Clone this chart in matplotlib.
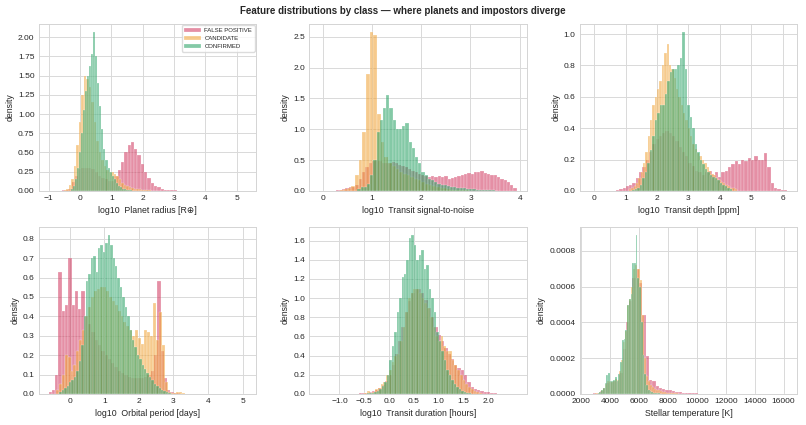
import numpy as np
import matplotlib
matplotlib.use("Agg")
import matplotlib.pyplot as plt
import seaborn as sns

# ---------------- data (density per bin) ----------------
classes = ["FALSE POSITIVE", "CANDIDATE", "CONFIRMED"]

# Panel 1: log10 planet radius
radius_fp_range = (-1.0, 5.3)
radius_fp = [0.002, 0.002, 0.003, 0.004, 0.006, 0.01, 0.03, 0.12, 0.2, 0.28,
             0.3, 0.3, 0.3, 0.28, 0.25, 0.2, 0.17, 0.15, 0.13, 0.13,
             0.2, 0.27, 0.38, 0.5, 0.6, 0.64, 0.55, 0.47, 0.35, 0.25,
             0.17, 0.1, 0.06, 0.05, 0.03, 0.015, 0.01, 0.008, 0.006, 0.005,
             0.004, 0.004, 0.003, 0.003, 0.003, 0.002, 0.002, 0.002, 0.002, 0.002,
             0.002, 0.001, 0.001, 0.001, 0.001, 0.001, 0.001, 0.001, 0.001, 0.001]
radius_cand_range = (-0.6, 2.6)
radius_cand = [0.005, 0.01, 0.03, 0.08, 0.15, 0.33, 0.6, 0.9, 1.25, 1.5,
               1.45, 1.35, 1.15, 0.9, 0.65, 0.5, 0.4, 0.32, 0.27, 0.25,
               0.24, 0.22, 0.2, 0.15, 0.1, 0.08, 0.06, 0.05, 0.04, 0.03,
               0.025, 0.02, 0.015, 0.01, 0.008, 0.006, 0.005, 0.004, 0.003, 0.002]
radius_conf_range = (-0.29, 2.05)
radius_conf = [0.02, 0.06, 0.15, 0.3, 0.5, 0.75, 1.05, 1.3, 1.5, 1.62,
               1.78, 2.07, 1.75, 1.4, 1.1, 0.8, 0.55, 0.4, 0.3, 0.25,
               0.2, 0.15, 0.1, 0.07, 0.05, 0.03, 0.02, 0.015, 0.01, 0.01,
               0.005, 0.004, 0.003, 0.002, 0.002, 0.001]

# Panel 2: log10 transit signal-to-noise
snr_fp_range = (-0.08, 3.94)
snr_fp = [0.002, 0.002, 0.003, 0.003, 0.005, 0.008, 0.015, 0.03, 0.04, 0.06,
          0.07, 0.1, 0.2, 0.3, 0.38, 0.45, 0.48, 0.5, 0.48, 0.45,
          0.45, 0.45, 0.47, 0.45, 0.42, 0.4, 0.38, 0.36, 0.33, 0.3,
          0.27, 0.25, 0.24, 0.23, 0.24, 0.23, 0.24, 0.22, 0.24, 0.2,
          0.21, 0.23, 0.24, 0.26, 0.27, 0.29, 0.28, 0.3, 0.3, 0.32,
          0.29, 0.27, 0.25, 0.26, 0.22, 0.2, 0.17, 0.14, 0.1, 0.05]
snr_cand_range = (0.35, 3.05)
snr_cand = [0.01, 0.03, 0.05, 0.08, 0.25, 0.5, 0.95, 1.9, 2.58, 2.53,
            1.25, 0.8, 0.55, 0.45, 0.4, 0.35, 0.3, 0.27, 0.25, 0.22,
            0.2, 0.18, 0.15, 0.12, 0.1, 0.08, 0.06, 0.05, 0.04, 0.03,
            0.02, 0.02, 0.015, 0.01, 0.01, 0.005]
snr_conf_range = (0.7, 3.56)
snr_conf = [0.03, 0.06, 0.06, 0.12, 0.25, 0.5, 0.95, 1.15, 1.35, 1.55,
            1.35, 1.15, 1.0, 1.0, 1.05, 1.1, 0.8, 0.7, 0.55, 0.45,
            0.3, 0.25, 0.2, 0.17, 0.15, 0.12, 0.1, 0.1, 0.08, 0.07,
            0.06, 0.05, 0.05, 0.04, 0.03, 0.03, 0.025, 0.02, 0.02, 0.015,
            0.01, 0.01, 0.008, 0.005]

# Panel 3: log10 transit depth
depth_fp_range = (-0.15, 6.15)
depth_fp = [0.001, 0.001, 0.001, 0.001, 0.001, 0.001, 0.001, 0.002, 0.005, 0.01,
            0.02, 0.03, 0.04, 0.05, 0.08, 0.12, 0.15, 0.2, 0.25, 0.3,
            0.33, 0.35, 0.37, 0.38, 0.37, 0.35, 0.32, 0.28, 0.25, 0.22,
            0.18, 0.16, 0.13, 0.12, 0.1, 0.12, 0.13, 0.1, 0.12, 0.09,
            0.12, 0.13, 0.15, 0.17, 0.19, 0.17, 0.2, 0.19, 0.21, 0.2,
            0.22, 0.2, 0.2, 0.24, 0.15, 0.05, 0.02, 0.01, 0.005, 0.003]
depth_cand_range = (1.1, 4.55)
depth_cand = [0.01, 0.02, 0.03, 0.05, 0.08, 0.12, 0.18, 0.25, 0.35, 0.45,
              0.55, 0.6, 0.65, 0.7, 0.8, 0.88, 0.94, 0.8, 0.78, 0.72,
              0.65, 0.6, 0.55, 0.5, 0.45, 0.4, 0.35, 0.3, 0.27, 0.24,
              0.22, 0.2, 0.18, 0.15, 0.13, 0.11, 0.1, 0.08, 0.07, 0.06,
              0.05, 0.04, 0.03, 0.02, 0.02, 0.01]
depth_conf_range = (1.2, 4.4)
depth_conf = [0.005, 0.01, 0.02, 0.04, 0.08, 0.12, 0.18, 0.26, 0.35, 0.45,
              0.5, 0.55, 0.55, 0.62, 0.7, 0.76, 0.78, 0.78, 0.8, 0.85,
              1.015, 0.78, 0.55, 0.47, 0.4, 0.3, 0.25, 0.2, 0.17, 0.14,
              0.12, 0.1, 0.09, 0.08, 0.07, 0.05, 0.04, 0.03, 0.02, 0.01]

# Panel 4: log10 orbital period
period_fp_range = (-0.61, 5.1)
period_fp = [0.01, 0.02, 0.1, 0.63, 0.43, 0.46, 0.7, 0.46, 0.53, 0.44,
             0.53, 0.4, 0.36, 0.32, 0.28, 0.25, 0.22, 0.2, 0.18, 0.16,
             0.14, 0.12, 0.11, 0.1, 0.09, 0.08, 0.08, 0.08, 0.08, 0.09,
             0.1, 0.12, 0.2, 0.58, 0.22, 0.08, 0.02, 0.01, 0.005, 0.003,
             0.002, 0.002, 0.002, 0.002, 0.002, 0.001, 0.001, 0.001, 0.001, 0.001,
             0.001, 0.001, 0.001, 0.001, 0.001, 0.001, 0.001, 0.001, 0.001, 0.001]
period_cand_range = (-0.4, 3.34)
period_cand = [0.02, 0.05, 0.1, 0.2, 0.19, 0.12, 0.15, 0.22, 0.28, 0.33,
               0.4, 0.45, 0.5, 0.53, 0.54, 0.55, 0.55, 0.53, 0.5, 0.48,
               0.46, 0.43, 0.4, 0.37, 0.35, 0.33, 0.3, 0.33, 0.29, 0.26,
               0.33, 0.32, 0.3, 0.47, 0.28, 0.42, 0.25, 0.06, 0.01, 0.005,
               0.005, 0.01, 0.01, 0.005]
period_conf_range = (-0.3, 2.92)
period_conf = [0.01, 0.02, 0.03, 0.04, 0.06, 0.07, 0.09, 0.12, 0.17, 0.25,
               0.4, 0.58, 0.62, 0.7, 0.71, 0.63, 0.75, 0.77, 0.73, 0.78,
               0.82, 0.77, 0.7, 0.66, 0.6, 0.55, 0.5, 0.45, 0.4, 0.33,
               0.28, 0.24, 0.2, 0.18, 0.15, 0.13, 0.11, 0.09, 0.07, 0.05,
               0.04, 0.03, 0.02, 0.015, 0.01, 0.005]

# Panel 5: log10 transit duration
duration_fp_range = (-1.41, 2.57)
duration_fp = [0.001, 0.001, 0.001, 0.001, 0.001, 0.001, 0.001, 0.001, 0.002, 0.002,
               0.002, 0.002, 0.005, 0.01, 0.015, 0.02, 0.03, 0.04, 0.06, 0.09,
               0.14, 0.2, 0.3, 0.42, 0.55, 0.7, 0.85, 0.97, 1.05, 1.1,
               1.1, 1.05, 0.98, 0.9, 0.8, 0.7, 0.62, 0.55, 0.48, 0.42,
               0.36, 0.3, 0.27, 0.25, 0.2, 0.12, 0.07, 0.05, 0.04, 0.03,
               0.02, 0.02, 0.01, 0.005, 0.003, 0.002, 0.002, 0.001, 0.001, 0.001]
duration_cand_range = (-0.5, 1.865)
duration_cand = [0.01, 0.03, 0.01, 0.02, 0.05, 0.06, 0.1, 0.12, 0.2, 0.25,
                 0.33, 0.4, 0.42, 0.55, 0.7, 0.85, 1.0, 1.05, 1.1, 1.1,
                 1.05, 1.0, 0.95, 0.9, 0.8, 0.7, 0.6, 0.55, 0.6, 0.5,
                 0.45, 0.45, 0.35, 0.3, 0.25, 0.2, 0.15, 0.1, 0.07, 0.05,
                 0.03, 0.02, 0.01]
duration_conf_range = (-0.45, 1.65)
duration_conf = [0.005, 0.01, 0.015, 0.02, 0.03, 0.05, 0.08, 0.12, 0.2, 0.35,
                 0.5, 0.65, 0.85, 1.0, 1.22, 1.25, 1.4, 1.63, 1.66, 1.55,
                 1.4, 1.45, 1.5, 1.3, 1.35, 1.1, 1.0, 0.85, 0.65, 0.55,
                 0.45, 0.35, 0.25, 0.2, 0.15, 0.1, 0.07, 0.05, 0.03, 0.02,
                 0.01, 0.005]
duration_ticks = [-1.0, -0.5, 0.0, 0.5, 1.0, 1.5, 2.0]

# Panel 6: stellar temperature
teff_fp_range = (2570, 16250)
teff_fp = [2e-6, 3e-6, 5e-6, 1.5e-5, 3.5e-5, 6e-5, 6.5e-5, 7e-5, 7.5e-5, 1.2e-4,
           2.5e-4, 4.0e-4, 5.2e-4, 6.5e-4, 7.0e-4, 6.2e-4, 4.4e-4, 2.1e-4, 8e-5, 7e-5,
           4.5e-5, 3.5e-5, 3e-5, 2.5e-5, 2e-5, 1.5e-5, 1.2e-5, 1e-5, 8e-6, 8e-6,
           6e-6, 5e-6, 3e-6, 2e-6, 1.5e-6, 1e-6, 8e-7, 6e-7, 5e-7, 4e-7,
           4e-7, 3e-7, 3e-7, 3e-7, 2e-7, 2e-7, 2e-7, 2e-7, 2e-7, 2e-7,
           2e-7, 2e-7, 2e-7, 2e-7, 2e-7, 2e-7, 2e-7, 2e-7, 2e-7, 2e-7]
teff_cand_range = (2800, 9240)
teff_cand = [2e-6, 3e-6, 5e-6, 1e-5, 2e-5, 3.5e-5, 5.5e-5, 7.5e-5, 7e-5, 6.5e-5,
             7e-5, 8.5e-5, 8e-5, 1.3e-4, 1.9e-4, 2.9e-4, 3.5e-4, 5.0e-4, 5.3e-4, 6.0e-4,
             7.0e-4, 7.2e-4, 7.0e-4, 6.4e-4, 4.4e-4, 2.0e-4, 1.0e-4, 7e-5, 5e-5, 4e-5,
             3e-5, 2.5e-5, 2e-5, 1.5e-5, 1.2e-5, 1e-5, 8e-6, 6e-6, 5e-6, 4e-6,
             3e-6, 3e-6, 2e-6, 2e-6, 1e-6, 1e-6]
teff_conf_range = (3000, 7560)
teff_conf = [2e-6, 5e-6, 1e-5, 2e-5, 3.5e-5, 6e-5, 1.05e-4, 1.15e-4, 7e-5, 7.5e-5,
             8e-5, 9.5e-5, 7.5e-5, 1.1e-4, 1.8e-4, 3.0e-4, 3.1e-4, 3.6e-4, 5.0e-4, 5.3e-4,
             5.6e-4, 7.3e-4, 7.35e-4, 8.9e-4, 6.5e-4, 6.0e-4, 4.0e-4, 2.2e-4, 1.1e-4, 5e-5,
             2.5e-5, 1.5e-5, 1e-5, 7e-6, 5e-6, 4e-6, 3e-6, 2e-6]

panels = [
    ("log10  Planet radius [R\u2295]",
     [(radius_fp_range, radius_fp), (radius_cand_range, radius_cand), (radius_conf_range, radius_conf)], None),
    ("log10  Transit signal-to-noise",
     [(snr_fp_range, snr_fp), (snr_cand_range, snr_cand), (snr_conf_range, snr_conf)], None),
    ("log10  Transit depth [ppm]",
     [(depth_fp_range, depth_fp), (depth_cand_range, depth_cand), (depth_conf_range, depth_conf)], None),
    ("log10  Orbital period [days]",
     [(period_fp_range, period_fp), (period_cand_range, period_cand), (period_conf_range, period_conf)], None),
    ("log10  Transit duration [hours]",
     [(duration_fp_range, duration_fp), (duration_cand_range, duration_cand), (duration_conf_range, duration_conf)],
     duration_ticks),
    ("Stellar temperature [K]",
     [(teff_fp_range, teff_fp), (teff_cand_range, teff_cand), (teff_conf_range, teff_conf)], None),
]

# ---------------- style ----------------
sns.set_theme(style="whitegrid")
plt.rcParams["font.family"] = ["Liberation Sans", "DejaVu Sans"]
plt.rcParams.update({
    "axes.edgecolor": "#d4d4d4",
    "axes.linewidth": 0.7,
    "grid.color": "#d9d9d9",
    "grid.linewidth": 0.7,
    "xtick.labelsize": 6.0,
    "ytick.labelsize": 6.0,
    "axes.labelsize": 6.3,
    "xtick.major.pad": 3.0,
    "ytick.major.pad": 3.0,
    "axes.labelpad": 2.5,
    "text.color": "#262626",
    "axes.labelcolor": "#262626",
    "xtick.color": "#262626",
    "ytick.color": "#262626",
})

colors = {"FALSE POSITIVE": "#d1345b", "CANDIDATE": "#f0a030", "CONFIRMED": "#1f9e5e"}

fig, axes = plt.subplots(2, 3, figsize=(8.06, 4.25), dpi=100)
fig.subplots_adjust(left=0.048, right=0.989, top=0.944, bottom=0.073,
                    wspace=0.245, hspace=0.215)

for ax, (xlabel, series, xticks) in zip(axes.flat, panels):
    for cls, ((lo, hi), heights) in zip(classes, series):
        edges = np.linspace(lo, hi, len(heights) + 1)
        ax.bar(edges[:-1], heights, width=np.diff(edges), align="edge",
               color=colors[cls], alpha=0.55, edgecolor="white",
               linewidth=0.3, label=cls)
    if xticks is not None:
        ax.set_xticks(xticks)
    ax.set_xlabel(xlabel)
    ax.set_ylabel("density")
    ax.tick_params(length=0)
    for s in ax.spines.values():
        s.set_color("#d4d4d4")

axes[0, 0].legend(loc="upper right", fontsize=4.3, handlelength=2.8,
                  handleheight=0.7, handletextpad=0.6, borderaxespad=0.25,
                  labelspacing=0.5, frameon=True, edgecolor="#d4d4d4",
                  fancybox=True)

fig.suptitle("Feature distributions by class \u2014 where planets and impostors diverge",
             fontsize=7.0, fontweight="bold", y=0.985)

fig.savefig("out.png", dpi=100)
